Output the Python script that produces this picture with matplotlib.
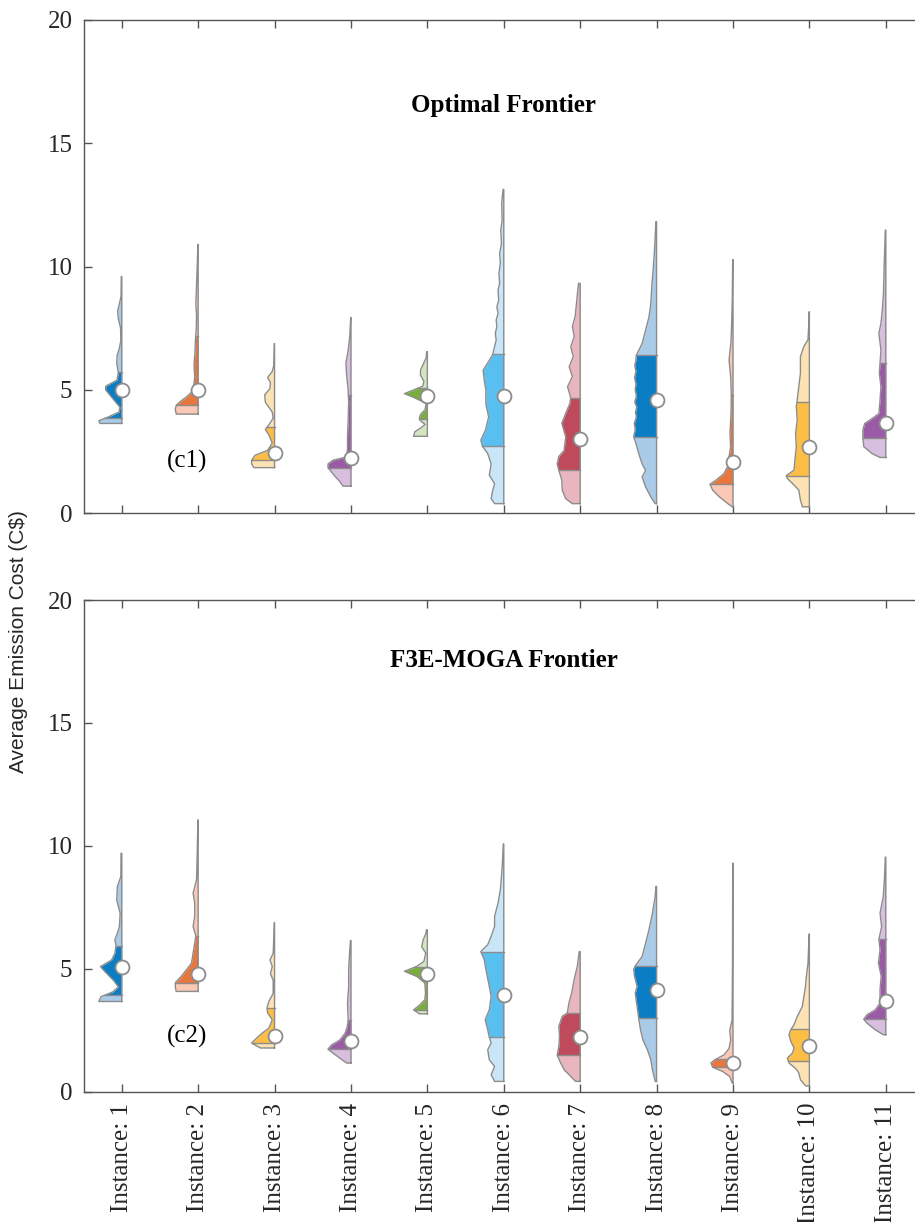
import numpy as np
import matplotlib
matplotlib.use("Agg")
import matplotlib.pyplot as plt

plt.rcParams['font.family'] = ['Liberation Serif', 'DejaVu Serif']

labels = ['Instance: %d' % i for i in range(1, 12)]

# dark / light colour of each instance
dark = ['#0A7DC5', '#E8773F', '#FDBE45', '#9B5AA6', '#79AE3C', '#58BFF0',
        '#BE4A5C', '#0A7DC5', '#E8773F', '#FDBE45', '#9B5AA6']
light = ['#A9CBE8', '#FAC8B4', '#FDE2B3', '#D9BFDF', '#D4E5C0', '#C8E6F8',
         '#E9B6BF', '#A9CBE8', '#FAC8B4', '#FDE2B3', '#D9BFDF']

# ---- optimal frontier (c1): density profile (y, relative width) + quartiles
opt_y = [
    [3.64, 3.75, 3.9, 4.1, 4.3, 4.6, 5.0, 5.15, 5.4, 5.7, 6.1, 6.4, 6.7, 7.0, 7.5, 7.9, 8.2, 8.5, 8.8, 9.6],
    [4.02, 4.2, 4.38, 4.55, 4.72, 4.9, 5.1, 5.5, 6.0, 6.5, 7.0, 7.5, 8.0, 8.5, 9.0, 9.5, 10.0, 10.9],
    [1.85, 2.0, 2.15, 2.35, 2.55, 2.85, 3.18, 3.4, 3.58, 3.85, 4.1, 4.5, 4.8, 5.05, 5.3, 5.5, 5.75, 6.0, 6.88],
    [1.1, 1.3, 1.5, 1.85, 2.0, 2.15, 2.28, 2.6, 3.1, 3.8, 4.5, 5.0, 5.6, 6.1, 6.6, 7.2, 7.94],
    [3.12, 3.3, 3.45, 3.6, 3.75, 3.85, 4.0, 4.2, 4.45, 4.7, 4.85, 5.0, 5.15, 5.35, 5.6, 5.8, 6.1, 6.3, 6.55],
    [0.39, 0.59, 0.93, 1.2, 1.54, 2.0, 2.42, 2.72, 2.96, 3.37, 3.9, 4.44, 4.98, 5.39, 5.8, 6.2, 6.44, 6.76,
     7.02, 7.29, 7.56, 7.83, 8.1, 8.37, 8.64, 9.05, 9.32, 9.72, 10.13, 10.53, 10.94, 11.48, 11.88, 12.56, 13.13],
    [0.39, 0.59, 0.93, 1.34, 1.74, 2.0, 2.3, 2.55, 3.1, 3.65, 4.05, 4.45, 4.68, 5.13, 5.54, 5.94, 6.35, 6.75,
     7.16, 7.57, 7.97, 8.5, 8.9, 9.32],
    [0.39, 0.66, 1.07, 1.47, 1.74, 2.0, 2.42, 2.83, 3.1, 3.4, 3.65, 3.9, 4.1, 4.3, 4.5, 4.75, 5.0, 5.25,
     5.5, 5.75, 6.0, 6.2, 6.41, 6.88, 7.42, 7.96, 8.5, 9.18, 9.86, 10.5, 11.2, 11.82],
    [0.26, 0.4, 0.67, 0.94, 1.18, 1.34, 1.61, 1.88, 2.29, 2.7, 3.24, 3.92, 4.79, 5.54, 6.22, 6.9, 7.57, 8.65, 10.29],
    [0.26, 0.53, 0.94, 1.21, 1.41, 1.53, 1.75, 2.16, 2.7, 3.24, 3.78, 4.33, 4.6, 5.13, 5.67, 6.35, 6.76, 7.03,
     7.57, 8.17],
    [2.26, 2.42, 2.7, 3.07, 3.37, 3.64, 3.84, 4.04, 4.58, 5.13, 5.67, 6.1, 6.6, 7.3, 7.7, 8.24, 8.92, 10.0, 11.48],
]
opt_w = [
    [0.95, 1.0, 0.6, 0.12, 0.08, 0.35, 0.7, 0.7, 0.2, 0.15, 0.22, 0.2, 0.1, 0.04, 0.05, 0.15, 0.18, 0.1, 0.03, 0.02],
    [0.95, 1.0, 0.95, 0.75, 0.5, 0.3, 0.2, 0.15, 0.18, 0.14, 0.12, 0.08, 0.07, 0.1, 0.08, 0.06, 0.04, 0.01],
    [0.9, 1.0, 1.0, 0.85, 0.3, 0.1, 0.25, 0.4, 0.25, 0.06, 0.1, 0.4, 0.43, 0.2, 0.18, 0.3, 0.1, 0.03, 0.01],
    [0.35, 0.5, 0.7, 1.0, 1.0, 0.78, 0.2, 0.15, 0.15, 0.12, 0.1, 0.12, 0.19, 0.22, 0.12, 0.05, 0.01],
    [0.6, 0.55, 0.3, 0.1, 0.3, 0.35, 0.3, 0.1, 0.05, 0.6, 1.0, 0.6, 0.2, 0.15, 0.3, 0.3, 0.15, 0.05, 0.03],
    [0.4, 0.55, 0.48, 0.4, 0.63, 0.55, 0.7, 0.93, 1.0, 0.8, 0.66, 0.78, 0.78, 0.85, 0.9, 0.63, 0.48, 0.4,
     0.33, 0.37, 0.3, 0.33, 0.25, 0.3, 0.22, 0.25, 0.18, 0.21, 0.15, 0.18, 0.1, 0.13, 0.07, 0.09, 0.03],
    [0.34, 0.63, 0.78, 0.8, 0.93, 1.0, 0.93, 0.7, 0.63, 0.8, 0.63, 0.45, 0.41, 0.55, 0.34, 0.48, 0.3, 0.41,
     0.26, 0.34, 0.22, 0.16, 0.12, 0.07],
    [0.06, 0.25, 0.48, 0.63, 0.48, 0.63, 0.78, 0.9, 1.0, 0.93, 0.97, 0.88, 0.92, 0.86, 0.95, 0.88, 0.93, 0.9,
     0.96, 0.9, 0.95, 0.9, 0.88, 0.63, 0.48, 0.33, 0.25, 0.21, 0.15, 0.1, 0.06, 0.03],
    [0.03, 0.24, 0.6, 0.89, 1.0, 0.74, 0.39, 0.24, 0.17, 0.1, 0.13, 0.09, 0.07, 0.1, 0.17, 0.09, 0.06, 0.03, 0.01],
    [0.3, 0.39, 0.46, 0.74, 0.96, 1.0, 0.67, 0.63, 0.57, 0.6, 0.53, 0.57, 0.53, 0.46, 0.39, 0.39, 0.24, 0.06,
     0.03, 0.01],
    [0.25, 0.6, 0.96, 1.0, 1.0, 0.92, 0.6, 0.3, 0.25, 0.21, 0.28, 0.25, 0.21, 0.3, 0.21, 0.15, 0.1, 0.07, 0.02],
]
opt_q1 = [3.85, 4.38, 2.15, 1.85, 3.84, 2.72, 1.74, 3.1, 1.18, 1.53, 3.07]
opt_med = [5.0, 5.0, 2.45, 2.25, 4.77, 4.77, 2.99, 4.61, 2.06, 2.69, 3.66]
opt_q3 = [5.73, 7.18, 3.5, 4.79, 5.06, 6.44, 4.68, 6.41, 4.79, 4.49, 6.1]

# ---- F3E-MOGA frontier (c2)
moga_y = [
    [3.67, 3.87, 4.07, 4.27, 4.54, 4.88, 5.09, 5.36, 5.63, 5.93, 6.18, 6.45, 6.72, 7.26, 7.8, 8.35, 8.75, 9.7],
    [4.08, 4.28, 4.44, 4.69, 4.96, 5.23, 5.64, 6.04, 6.34, 6.72, 7.13, 7.67, 8.08, 8.62, 9.7, 11.06],
    [1.78, 1.98, 2.18, 2.38, 2.58, 2.93, 3.2, 3.4, 3.67, 4.0, 4.54, 4.8, 5.09, 5.36, 5.63, 6.3, 6.88],
    [1.17, 1.37, 1.57, 1.73, 1.9, 2.1, 2.37, 2.64, 2.93, 3.6, 4.27, 4.95, 5.64, 6.15],
    [3.17, 3.33, 3.54, 3.74, 4.01, 4.42, 4.69, 4.9, 5.1, 5.3, 5.64, 5.9, 6.18, 6.45, 6.59],
    [0.42, 0.69, 1.03, 1.3, 1.71, 1.98, 2.22, 2.52, 2.93, 3.33, 3.88, 4.42, 4.97, 5.37, 5.7, 5.98, 6.32, 6.72,
     7.13, 7.67, 8.21, 8.75, 9.29, 10.08],
    [0.42, 0.62, 0.9, 1.17, 1.48, 1.84, 2.25, 2.66, 3.07, 3.2, 3.61, 4.02, 4.57, 5.12, 5.7],
    [0.42, 0.9, 1.3, 1.71, 2.12, 2.52, 2.99, 3.47, 4.01, 4.29, 4.7, 4.97, 5.12, 5.5, 6.04, 6.59, 7.26, 7.94, 8.35],
    [0.35, 0.62, 0.83, 1.0, 1.17, 1.29, 1.5, 1.76, 2.1, 2.5, 2.91, 3.86, 5.2, 9.3],
    [0.24, 0.49, 0.76, 0.92, 1.17, 1.37, 1.57, 1.78, 2.05, 2.32, 2.52, 2.72, 3.06, 3.46, 3.87, 4.28, 4.69,
     5.23, 6.42],
    [2.32, 2.52, 2.79, 2.95, 3.13, 3.33, 3.6, 4.15, 4.7, 5.24, 5.78, 6.2, 6.72, 7.26, 7.94, 8.62, 9.54],
]
moga_w = [
    [1.0, 0.9, 0.37, 0.15, 0.37, 0.73, 0.93, 0.44, 0.3, 0.25, 0.3, 0.19, 0.1, 0.07, 0.22, 0.19, 0.04, 0.03],
    [0.96, 1.0, 0.99, 0.74, 0.51, 0.29, 0.22, 0.15, 0.1, 0.22, 0.15, 0.15, 0.22, 0.07, 0.04, 0.01],
    [0.62, 1.0, 0.78, 0.55, 0.25, 0.1, 0.3, 0.33, 0.25, 0.06, 0.06, 0.18, 0.1, 0.2, 0.06, 0.03, 0.01],
    [0.19, 0.49, 0.78, 1.0, 0.85, 0.49, 0.26, 0.16, 0.12, 0.15, 0.1, 0.1, 0.06, 0.02],
    [0.35, 0.6, 0.32, 0.11, 0.08, 0.11, 0.46, 1.0, 0.46, 0.15, 0.07, 0.25, 0.18, 0.06, 0.04],
    [0.4, 0.55, 0.4, 0.63, 0.7, 0.55, 0.63, 0.7, 0.81, 0.63, 0.55, 0.66, 0.78, 0.85, 1.0, 0.7, 0.55, 0.4,
     0.4, 0.25, 0.15, 0.1, 0.06, 0.02],
    [0.2, 0.41, 0.7, 0.85, 1.0, 0.93, 0.9, 0.93, 0.78, 0.56, 0.49, 0.37, 0.26, 0.12, 0.04],
    [0.06, 0.18, 0.25, 0.4, 0.6, 0.7, 0.78, 0.85, 0.93, 0.85, 0.96, 1.0, 0.93, 0.63, 0.48, 0.33, 0.18, 0.06, 0.03],
    [0.03, 0.14, 0.46, 0.89, 0.96, 0.81, 0.39, 0.17, 0.1, 0.14, 0.04, 0.03, 0.02, 0.01],
    [0.17, 0.39, 0.46, 0.57, 0.89, 0.96, 0.74, 0.67, 0.81, 0.89, 0.81, 0.67, 0.53, 0.31, 0.24, 0.17, 0.13,
     0.06, 0.01],
    [0.11, 0.46, 0.82, 0.96, 0.82, 0.46, 0.25, 0.25, 0.2, 0.32, 0.25, 0.3, 0.18, 0.25, 0.11, 0.06, 0.02],
]
moga_q1 = [3.94, 4.44, 2.0, 1.73, 3.33, 2.22, 1.48, 2.99, 1.0, 1.27, 2.95]
moga_med = [5.07, 4.8, 2.25, 2.05, 4.8, 3.92, 2.22, 4.15, 1.17, 1.87, 3.71]
moga_q3 = [5.93, 6.34, 3.4, 2.93, 5.07, 5.7, 3.2, 5.12, 1.33, 2.55, 6.2]

HALF = 0.3       # max half width in x units
EDGE = '#8c8c8c'


def half_violin(ax, x, ys, ws, q1, med, q3, cd, cl):
    ys = np.array(ys)
    ws = np.array(ws) * HALF
    parts = [(ys[0], q1, cl), (q1, q3, cd), (q3, ys[-1], cl)]
    for lo, hi, c in parts:
        yy = np.concatenate([[lo], ys[(ys > lo) & (ys < hi)], [hi]])
        ww = np.interp(yy, ys, ws)
        ax.fill_betweenx(yy, x - ww, x, color=c, lw=0, zorder=2)
    # outline
    ox = np.concatenate([[x], x - ws, [x, x]])
    oy = np.concatenate([[ys[0]], ys, [ys[-1], ys[0]]])
    ax.plot(ox, oy, color=EDGE, lw=1.0, zorder=3)
    for q in (q1, q3):
        ax.plot([x - np.interp(q, ys, ws), x], [q, q], color=EDGE, lw=1.0, zorder=3)
    ax.plot(x, med, 'o', ms=10, mfc='white', mec=EDGE, mew=1.3, zorder=4)


def style(ax):
    ax.set_xlim(0.5, 11.5)
    ax.set_ylim(0, 20)
    ax.set_yticks([0, 5, 10, 15, 20])
    ax.set_xticks(range(1, 12))
    ax.tick_params(direction='in', top=True, right=True, length=6, width=1,
                   color='#555555', labelsize=18, labelcolor='#262626')
    ax.tick_params(axis='y', pad=8)
    for s in ax.spines.values():
        s.set_color('#555555')
        s.set_linewidth(1.0)


fig = plt.figure(figsize=(9.15, 12.22), dpi=100)
ax1 = fig.add_axes([0.0913, 0.58, 0.9185, 0.4037])
ax2 = fig.add_axes([0.0913, 0.1066, 0.9185, 0.4024])

for i in range(11):
    half_violin(ax1, i + 1, opt_y[i], opt_w[i], opt_q1[i], opt_med[i], opt_q3[i], dark[i], light[i])
    half_violin(ax2, i + 1, moga_y[i], moga_w[i], moga_q1[i], moga_med[i], moga_q3[i], dark[i], light[i])

style(ax1)
style(ax2)
ax1.set_xticklabels([])
ax2.set_xticklabels(labels, rotation=90, va='top')
ax2.tick_params(axis='x', pad=8)

ax1.text(6, 16.55, 'Optimal Frontier', ha='center', va='center', fontsize=18, fontweight='bold')
ax2.text(6, 17.55, 'F3E-MOGA Frontier', ha='center', va='center', fontsize=18, fontweight='bold')
ax1.text(1.86, 2.1, '(c1)', ha='center', va='center', fontsize=18)
ax2.text(1.86, 2.24, '(c2)', ha='center', va='center', fontsize=18)

fig.text(0.02, 1 - 642 / 1222, 'Average Emission Cost (C$)', rotation=90, ha='center', va='center',
         fontsize=15, family=['Liberation Sans', 'DejaVu Sans'], color='#262626')

fig.savefig('out.png', dpi=100)
